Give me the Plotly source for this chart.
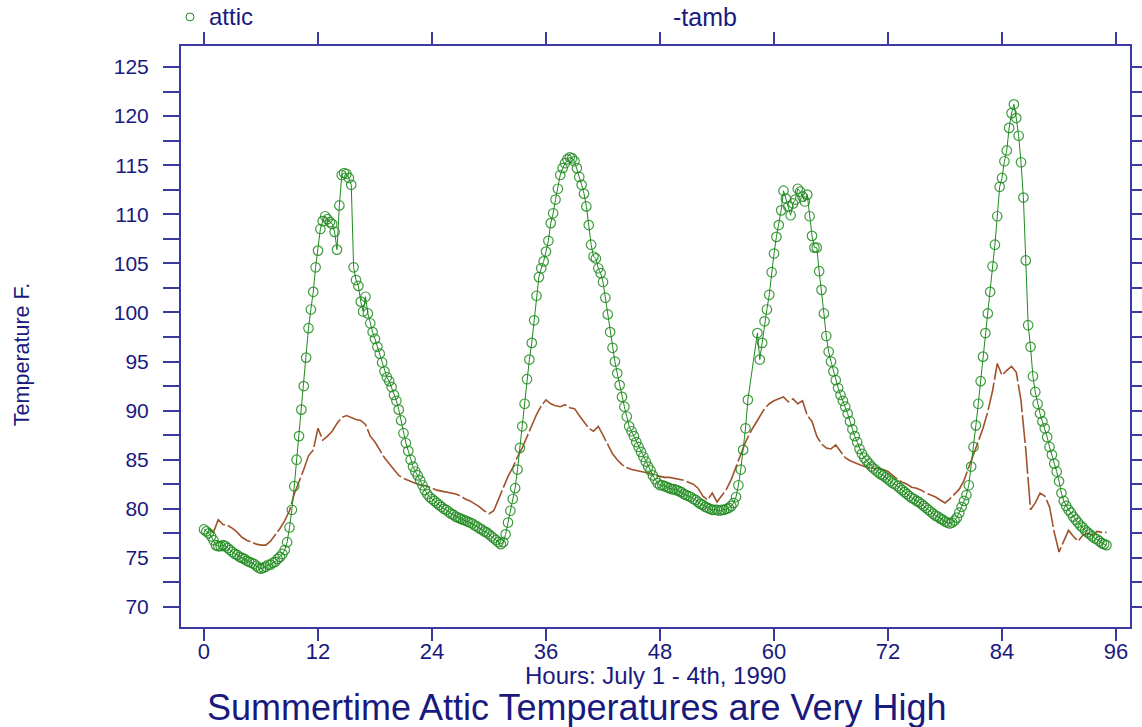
import plotly.graph_objects as go

# ---------------- data ----------------
# attic temperature, every 15 minutes from hour 0 (None = no reading)
attic_day1 = [
    77.9, 77.7, 77.5, 77.2, 76.8, 76.3, 76.2, 76.2,
    76.3, 76.2, 76.0, 75.8, 75.6, 75.4, 75.3, 75.1,
    75.0, 74.9, 74.7, 74.6, 74.5, 74.4, 74.2, 74.0,
    73.9, 74.0, 74.1, 74.3, 74.3, 74.5, 74.6, 74.9,
    75.1, 75.4, 75.8, 76.6, 78.1, 79.9, 82.3, 85.0,
    87.4, 90.1, 92.5, 95.4, 98.4, 100.3, 102.1, 104.6,
    106.3, 108.5, 109.3, 109.8, 109.5, 109.2, 109.0, 108.2,
    106.4, 110.9, 114.0, 114.2, 114.1, 113.7, 113.0, 104.6,
    103.3, 102.7, 101.1, 100.1, 101.6, 99.9, 98.9, 98.0,
    97.3, 96.5, 95.8, 94.9, 94.0, 93.4, 93.0, 92.4,
    91.6, 91.0, 90.1, 89.0, 87.7, 86.7, 85.9, 85.0,
    84.3, 83.8, 83.4, 82.9, 82.4, 81.9, 81.5, 81.2,
]
attic_day2 = [
    81.0, 80.8, 80.6, 80.4, 80.2, 80.0, 79.9, 79.7,
    79.5, 79.4, 79.2, 79.1, 79.0, 78.9, 78.8, 78.7,
    78.6, 78.5, 78.3, 78.2, 78.0, 77.9, 77.7, 77.6,
    77.4, 77.2, 77.0, 76.8, 76.6, 76.4, 76.6, 77.4,
    78.6, 79.8, 81.0, 82.1, 84.0, 86.2, 88.4, 90.7,
    93.2, 95.2, 96.9, 99.2, 101.7, 103.6, 104.5, 105.2,
    106.2, 107.3, 109.1, 110.1, 111.5, 112.6, 114.0, 114.7,
    115.2, 115.6, 115.8, 115.7, 115.4, 114.7, 113.8, 113.0,
    112.1, 110.8, 108.9, 106.9, 105.7, 105.5, 104.5, 104.0,
    103.1, 101.5, 99.8, 98.0, 96.4, 95.0, 93.8, 92.6,
    91.4, 90.4, 89.4, 88.4, 87.9, 87.4, 86.8, 86.3,
    85.8, 85.3, 84.8, 84.3, 83.9, 83.4, 83.0, 82.6,
]
attic_day3 = [
    82.4, 82.4, 82.3, 82.2, 82.1, 82.0, 82.0, 81.9,
    81.8, 81.7, 81.5, 81.4, 81.3, 81.2, 81.0, 80.9,
    80.7, 80.5, 80.4, 80.2, 80.1, 80.0, 79.9, 79.9,
    79.9, 79.8, 79.9, 79.9, 80.0, 80.1, 80.3, 80.6,
    81.2, 82.4, 84.0, 86.0, 88.2, 91.1, None, None,
    None, 97.9, 95.2, 96.9, 99.1, 100.3, 101.8, 104.1,
    106.0, 107.7, 108.9, 110.4, 112.4, 111.6, 110.8, 109.9,
    111.1, 111.5, 112.6, 112.3, 111.8, 111.3, 112.0, 109.8,
    107.8, 106.6, 106.6, 104.2, 102.3, 99.9, 97.6, 96.0,
    95.0, 94.0, 93.1, 92.3, 91.6, 91.0, 90.4, 89.7,
    88.9, 88.1, 87.4, 86.8, 86.1, 85.6, 85.2, 84.9,
    84.6, 84.3, 84.1, 83.9, 83.7, 83.5, 83.4, 83.2,
]
attic_day4 = [
    83.0, 82.8, 82.6, 82.5, 82.3, 82.1, 81.9, 81.7,
    81.5, 81.3, 81.1, 81.0, 80.8, 80.7, 80.5, 80.3,
    80.1, 79.9, 79.7, 79.5, 79.3, 79.2, 79.0, 78.9,
    78.7, 78.6, 78.5, 78.6, 78.8, 79.1, 79.6, 80.2,
    80.8, 81.4, 82.4, 84.3, 86.3, 88.5, 90.7, 93.0,
    95.5, 97.9, 99.9, 102.1, 104.7, 106.9, 109.8, 112.8,
    113.7, 115.4, 116.5, 118.8, 120.3, 121.2, 119.8, 118.0,
    115.3, 111.7, 105.3, 98.7, 96.5, 93.5, 91.9, 90.7,
    89.7, 88.9, 88.2, 87.3, 86.3, 85.5, 84.6, 83.8,
    82.8, 81.6, 80.8, 80.3, 79.9, 79.6, 79.2, 78.9,
    78.6, 78.3, 78.1, 77.8, 77.6, 77.4, 77.2, 77.0,
    76.9, 76.7, 76.5, 76.4, 76.3,
]

# ambient temperature, every 30 minutes from hour 0.5
tamb_day1 = [
    77.9, 77.6, 78.9, 78.4, 78.3, 78.0, 77.6, 77.1, 76.8, 76.6, 76.4, 76.3,
    76.3, 76.7, 77.3, 78.0, 78.8, 79.8, 81.5, 82.7, 84.0, 85.4, 86.0, 88.2,
    87.0, 87.4, 87.9, 88.7, 89.3, 89.5, 89.3, 89.1, 89.0, 88.6, 87.4, 86.8,
    86.0, 85.2, 84.6, 84.0, 83.4, 83.1, 82.9, 82.7, 82.5, 82.4, 82.3, 82.1,
]
tamb_day2 = [
    81.9, 81.8, 81.7, 81.6, 81.5, 81.3, 81.0, 80.8, 80.5, 80.2, 79.8, 79.5,
    79.8, 81.0, 82.3, 83.3, 84.2, 85.3, 86.2, 87.3, 88.5, 89.6, 90.5, 91.1,
    90.7, 90.5, 90.4, 90.6, 90.3, 90.2, 89.5, 88.9, 88.2, 87.9, 88.4, 87.5,
    86.6, 85.6, 85.0, 84.5, 84.2, 84.0, 83.9, 83.8, 83.7, 83.6, 83.4, 83.3,
]
tamb_day3 = [
    83.2, 83.2, 83.1, 83.0, 82.9, 82.7, 82.5, 82.1, 81.3, 80.9, 81.6, 80.7,
    81.4, 82.0, 83.0, 84.3, 85.6, 86.8, 87.8, 88.6, 89.4, 90.2, 90.7, 91.0,
    91.2, 91.4, 90.9, 91.2, 90.7, 91.0, 89.5, 88.9, 87.4, 86.6, 86.2, 86.1,
    86.5, 85.8, 85.2, 84.9, 84.7, 84.5, 84.3, 84.2, 84.1, 84.1, 84.0, 83.8,
]
tamb_day4 = [
    83.4, 83.0, 82.7, 82.5, 82.2, 82.1, 81.9, 81.6, 81.4, 81.2, 80.9, 80.6,
    81.0, 81.5, 82.0, 82.9, 84.2, 85.6, 87.0, 88.2, 89.9, 92.0, 94.8, 93.6,
    94.1, 94.5, 93.9, 91.0, 86.0, 79.9, 80.6, 81.6, 81.3, 80.2, 77.6, 75.6,
    76.7, 77.8, 77.2, 76.7, 77.3, 77.5, 77.3, 77.7, 77.6, 77.6,
]

x_ticks = [0, 12, 24, 36, 48, 60, 72, 84, 96]
y_major = [70, 75, 80, 85, 90, 95, 100, 105, 110, 115, 120, 125]

attic = attic_day1 + attic_day2 + attic_day3 + attic_day4
tamb = tamb_day1 + tamb_day2 + tamb_day3 + tamb_day4
attic_hours = [i * 0.25 for i in range(len(attic))]
tamb_hours = [0.5 + i * 0.5 for i in range(len(tamb))]

# y ticks every 2.5, labels only on the major ones
y_tickvals = []
y_ticktext = []
for v in y_major:
    y_tickvals.append(v)
    y_ticktext.append(str(v))
    if v != y_major[-1]:
        y_tickvals.append(v + 2.5)
        y_ticktext.append("")

# ---------------- styling ----------------
NAVY = "#1a1a7e"
AXIS = "#3a3aa0"
GREEN = "#1f8a1f"
BROWN = "#a0522d"
FONT = "Arial, Liberation Sans, sans-serif"

fig = go.Figure()
fig.add_trace(go.Scatter(
    x=tamb_hours, y=tamb, mode="lines", name="tamb",
    line=dict(color=BROWN, width=1.6, dash="28px,3px"),
    showlegend=False,
))
fig.add_trace(go.Scatter(
    x=attic_hours, y=attic, mode="lines+markers", name="attic",
    connectgaps=True,
    line=dict(color=GREEN, width=1),
    marker=dict(symbol="circle-open", size=9.5, color="rgba(31,138,31,0.85)",
                line=dict(width=1.2)),
    showlegend=False,
))

fig.update_layout(
    width=1142, height=727,
    margin=dict(l=181, r=12, t=46, b=100, autoexpand=False),
    paper_bgcolor="white", plot_bgcolor="white",
    font=dict(family=FONT, color=NAVY),
    xaxis=dict(
        range=[-2.42, 97.47], tickvals=x_ticks,
        ticktext=[str(v) for v in x_ticks],
        automargin=False,
        showline=True, linecolor=AXIS, linewidth=2, mirror="ticks",
        ticks="outside", ticklen=12, tickwidth=1.5, tickcolor=AXIS,
        ticklabelstandoff=-8,
        showgrid=False, zeroline=False,
        tickfont=dict(size=22, color=NAVY, family=FONT),
    ),
    yaxis=dict(
        range=[67.96, 127.14], tickvals=y_tickvals, ticktext=y_ticktext,
        automargin=False,
        showline=True, linecolor=AXIS, linewidth=2, mirror="ticks",
        ticks="outside", ticklen=16, tickwidth=1.5, tickcolor=AXIS,
        ticklabelstandoff=10,
        showgrid=False, zeroline=False,
        tickfont=dict(size=21, color=NAVY, family=FONT),
    ),
    annotations=[
        dict(text="attic", xref="paper", yref="paper", x=0.0274, y=1.050,
             xanchor="left", yanchor="middle", showarrow=False,
             font=dict(size=24, color=NAVY, family=FONT)),
        dict(text="-tamb", xref="paper", yref="paper", x=0.5163, y=1.050,
             xanchor="left", yanchor="middle", showarrow=False,
             font=dict(size=25, color=NAVY, family=FONT)),
        dict(text="Hours: July 1 - 4th, 1990", xref="paper", yref="paper",
             x=0.4995, y=-0.0843, xanchor="center", yanchor="middle",
             showarrow=False, font=dict(size=24, color=NAVY, family=FONT)),
        dict(text="Summertime Attic Temperatures are Very High",
             xref="paper", yref="paper", x=0.4178, y=-0.1377,
             xanchor="center", yanchor="middle", showarrow=False,
             font=dict(size=36, color=NAVY, family=FONT)),
        dict(text="Temperature F.", xref="paper", yref="paper",
             x=-0.1675, y=0.468, xanchor="center", yanchor="middle",
             textangle=-90, showarrow=False,
             font=dict(size=21.5, color=NAVY, family=FONT)),
    ],
    shapes=[
        dict(type="circle", xref="paper", yref="paper",
             xsizemode="pixel", ysizemode="pixel",
             xanchor=0.0095, yanchor=1.050,
             x0=-4, x1=4, y0=-4, y1=4,
             line=dict(color=GREEN, width=1)),
    ],
)

fig.write_html("out.html")
